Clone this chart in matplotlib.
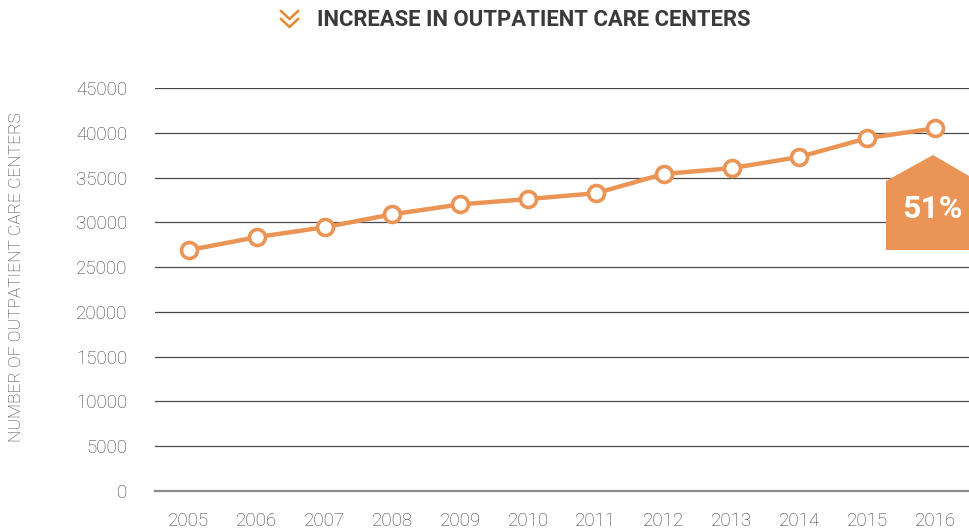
import matplotlib
matplotlib.use("Agg")
import matplotlib.pyplot as plt
from matplotlib.lines import Line2D
from matplotlib.patches import Polygon

years = [2005, 2006, 2007, 2008, 2009, 2010, 2011, 2012, 2013, 2014, 2015, 2016]
centers = [26900, 28350, 29450, 30900, 32000, 32600, 33250, 35400, 36050, 37300, 39400, 40500]
yticks = [0, 5000, 10000, 15000, 20000, 25000, 30000, 35000, 40000, 45000]
title = "INCREASE IN OUTPATIENT CARE CENTERS"
ylabel = "NUMBER OF OUTPATIENT CARE CENTERS"
badge_text = "51%"

ORANGE = "#EA9556"
W, H = 969, 531
fig = plt.figure(figsize=(W / 100, H / 100), dpi=100)
ax = fig.add_axes([155 / W, 1 - 491 / H, (969 - 155) / W, (491 - 88) / H])

ax.set_xlim(years[0] - 0.5, years[-1] + 0.5)
ax.set_ylim(0, 45000)
for v in yticks:
    if v == 0:
        ax.axhline(v, color="#8a8a8a", lw=1.6, zorder=1, clip_on=False)
    else:
        ax.axhline(v, color="#4a4a4a", lw=0.9, zorder=1)

ax.plot(years, centers, color=ORANGE, lw=3.2, marker="o", ms=11.5,
        mfc="white", mec=ORANGE, mew=2.6, zorder=3, clip_on=False)

for s in ax.spines.values():
    s.set_visible(False)
ax.set_yticks(yticks)
ax.set_yticklabels([str(v) for v in yticks])
ax.set_xticks(years)
ax.set_xticklabels([str(y) for y in years])
ax.tick_params(axis="both", length=0, labelsize=13.5, labelcolor="#3f3f3f")
ax.tick_params(axis="y", pad=20)
ax.tick_params(axis="x", pad=15)
for lab in ax.get_xticklabels() + ax.get_yticklabels():
    lab.set_fontfamily("Roboto")
    lab.set_fontweight("light")

fig.text(17 / W, 1 - 277 / H, ylabel, rotation=90, ha="center", va="center",
         fontsize=12.5, color="#3f3f3f", family="Roboto", fontweight="light")

fig.text(317 / W, 1 - 20 / H, title, ha="left", va="center", fontsize=15.9,
         color="#3a3a3a", family="Roboto", fontweight="bold")

# chevrons
for y0 in (11, 19):
    xs = [281 / W, 289.5 / W, 298 / W]
    ys = [1 - y0 / H, 1 - (y0 + 8) / H, 1 - y0 / H]
    fig.add_artist(Line2D(xs, ys, color="#E8892F", lw=1.8, transform=fig.transFigure))

# badge (house-shaped)
pts = [(886, 250), (886, 181), (933, 155), (969, 176), (969, 250)]
fig.add_artist(Polygon([(x / W, 1 - y / H) for x, y in pts], closed=True,
                       facecolor=ORANGE, edgecolor="none", transform=fig.transFigure, zorder=5))
fig.text(932 / W, 1 - 209 / H, badge_text, ha="center", va="center", fontsize=23,
         color="white", family="Roboto", fontweight="bold", zorder=6)

fig.savefig("out.png", dpi=100)
